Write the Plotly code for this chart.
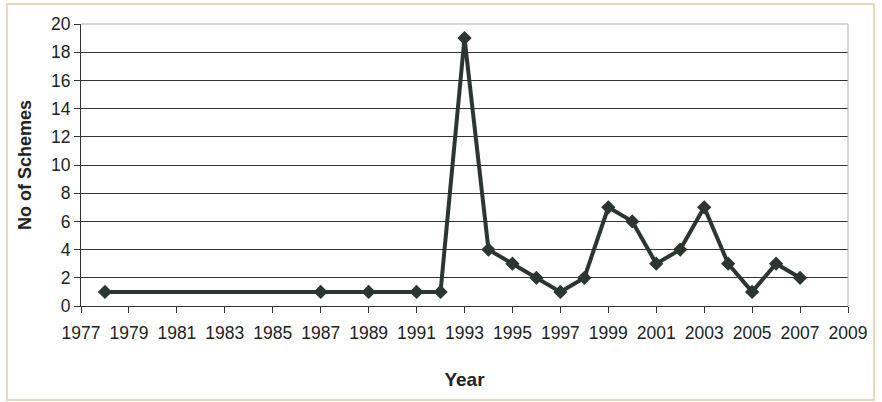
import plotly.graph_objects as go

years = [1978, 1987, 1989, 1991, 1992, 1993, 1994, 1995, 1996, 1997,
         1998, 1999, 2000, 2001, 2002, 2003, 2004, 2005, 2006, 2007]
schemes = [1, 1, 1, 1, 1, 19, 4, 3, 2, 1,
           2, 7, 6, 3, 4, 7, 3, 1, 3, 2]

x_ticks = list(range(1977, 2010, 2))
y_ticks = list(range(0, 21, 2))

fig = go.Figure()
fig.add_trace(go.Scatter(
    x=years, y=schemes, mode="lines+markers",
    line=dict(color="#2b3630", width=4),
    marker=dict(symbol="diamond", size=11, color="#2b3630"),
    showlegend=False,
))

W, H = 882, 402
L, R, T, B = 81, 34, 24, 96
pw, ph = W - L - R, H - T - B

fig.update_layout(
    width=W, height=H,
    margin=dict(l=L, r=R, t=T, b=B),
    paper_bgcolor="white", plot_bgcolor="white",
    font=dict(family="Liberation Sans, Arial, sans-serif", size=17, color="#222"),
    xaxis=dict(
        range=[1977, 2009], tickvals=x_ticks, ticktext=[str(v) for v in x_ticks],
        showgrid=False, zeroline=False,
        showline=True, linecolor="#333", linewidth=1,
        ticks="outside", ticklen=6, tickcolor="#333",
        tickfont=dict(size=17.5), ticklabelstandoff=5,
        title=dict(text="<b>Year</b>", font=dict(size=19, color="#222"), standoff=30),
    ),
    yaxis=dict(
        range=[0, 20], tickvals=y_ticks,
        showgrid=True, gridcolor="#333", gridwidth=1,
        zeroline=False,
        showline=True, linecolor="#333", linewidth=1,
        ticks="outside", ticklen=6, tickcolor="#333",
        tickfont=dict(size=17.5),
        title=dict(text="<b>No of Schemes</b>", font=dict(size=18, color="#222"), standoff=14),
    ),
    shapes=[
        dict(type="line", xref="paper", yref="paper", x0=0, x1=1, y0=1, y1=1,
             line=dict(color="#b0b0b0", width=1), layer="above"),
        dict(type="line", xref="paper", yref="paper", x0=1, x1=1, y0=0, y1=1,
             line=dict(color="#b0b0b0", width=1), layer="above"),
        dict(type="rect", xref="paper", yref="paper",
             x0=(7 - L) / pw, x1=(874 - L) / pw,
             y0=(H - B - 400) / ph, y1=(H - B - 4) / ph,
             line=dict(color="#e6d9bd", width=2), layer="below"),
    ],
)

fig.write_html("out.html")
